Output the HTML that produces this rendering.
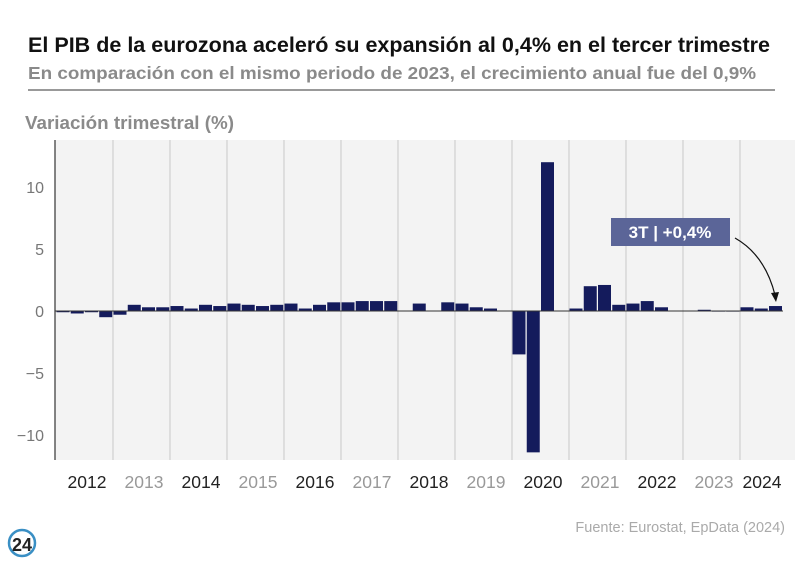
<!DOCTYPE html>
<html><head><meta charset="utf-8"><style>
body{margin:0;background:#fff;width:800px;height:562px;overflow:hidden;font-family:"Liberation Sans",sans-serif}
</style></head><body>
<svg width="800" height="562" xmlns="http://www.w3.org/2000/svg" font-family="Liberation Sans, sans-serif">
<text x="28" y="52" font-size="21" font-weight="bold" fill="#111" textLength="742" lengthAdjust="spacingAndGlyphs">El PIB de la eurozona aceleró su expansión al 0,4% en el tercer trimestre</text>
<text x="28" y="79" font-size="17.5" font-weight="bold" fill="#8a8a8a" textLength="728" lengthAdjust="spacingAndGlyphs">En comparación con el mismo periodo de 2023, el crecimiento anual fue del 0,9%</text>
<line x1="28" y1="90" x2="775" y2="90" stroke="#333" stroke-width="1"/>
<text x="25" y="129" font-size="18" font-weight="bold" fill="#8a8a8a" textLength="209" lengthAdjust="spacingAndGlyphs">Variación trimestral (%)</text>
<rect x="55" y="140" width="740" height="320" fill="#f3f3f3"/>
<g stroke="#cfcfcf" stroke-width="1.2">
<line x1="113" y1="140" x2="113" y2="460"/><line x1="170" y1="140" x2="170" y2="460"/><line x1="227" y1="140" x2="227" y2="460"/><line x1="284" y1="140" x2="284" y2="460"/><line x1="341" y1="140" x2="341" y2="460"/><line x1="398" y1="140" x2="398" y2="460"/><line x1="455" y1="140" x2="455" y2="460"/><line x1="512" y1="140" x2="512" y2="460"/><line x1="569" y1="140" x2="569" y2="460"/><line x1="626" y1="140" x2="626" y2="460"/><line x1="683" y1="140" x2="683" y2="460"/><line x1="740" y1="140" x2="740" y2="460"/>
</g>
<line x1="55" y1="140" x2="55" y2="460" stroke="#333" stroke-width="1.2"/>
<g font-size="16" fill="#777" text-anchor="end">
<text x="44" y="193">10</text><text x="44" y="255">5</text><text x="44" y="317">0</text><text x="44" y="379">−5</text><text x="44" y="441">−10</text>
</g>
<g id="bars" fill="#141b5c"></g>
<line x1="55" y1="311" x2="783" y2="311" stroke="#333" stroke-width="1"/>
<g font-size="17.5" text-anchor="middle">
<text x="87" y="488" fill="#222">2012</text><text x="144" y="488" fill="#999">2013</text><text x="201" y="488" fill="#222">2014</text><text x="258" y="488" fill="#999">2015</text><text x="315" y="488" fill="#222">2016</text><text x="372" y="488" fill="#999">2017</text><text x="429" y="488" fill="#222">2018</text><text x="486" y="488" fill="#999">2019</text><text x="543" y="488" fill="#222">2020</text><text x="600" y="488" fill="#999">2021</text><text x="657" y="488" fill="#222">2022</text><text x="714" y="488" fill="#999">2023</text><text x="762" y="488" fill="#222">2024</text>
</g>
<rect x="611" y="218" width="119" height="28" fill="#5b6598"/>
<text x="670" y="238" font-size="17" font-weight="bold" fill="#fff" text-anchor="middle">3T | +0,4%</text>
<path d="M735 238 Q765 255 775 295" stroke="#111" stroke-width="1.2" fill="none"/>
<path d="M771 293 L776 302 L779 292 Z" fill="#111"/>
<text x="785" y="532" font-size="14.5" fill="#aaa" text-anchor="end">Fuente: Eurostat, EpData (2024)</text>
<circle cx="22" cy="543" r="13" fill="none" stroke="#3a8fc4" stroke-width="2.5"/>
<text x="22" y="551" font-size="18" font-weight="bold" fill="#222" text-anchor="middle">24</text>
</svg>
<script>
var d=[-0.1,-0.2,-0.1,-0.5,-0.3,0.5,0.3,0.3,0.4,0.2,0.5,0.4,0.6,0.5,0.4,0.5,0.6,0.2,0.5,0.7,0.7,0.8,0.8,0.8,0.0,0.6,0.0,0.7,0.6,0.3,0.2,0.0,-3.5,-11.4,12.0,0.0,0.2,2.0,2.1,0.5,0.6,0.8,0.3,0.0,0.0,0.1,-0.05,-0.05,0.3,0.2,0.4];
var g=document.getElementById('bars'),s='';
for(var i=0;i<d.length;i++){var x=56+i*14.25,h=Math.abs(d[i])*12.4;if(h<0.01)continue;var y=d[i]>0?311-h:311;
s+='<rect x="'+(x+0.5).toFixed(2)+'" y="'+y.toFixed(2)+'" width="13" height="'+h.toFixed(2)+'"/>';}
g.innerHTML=s;
</script>
</body></html>
